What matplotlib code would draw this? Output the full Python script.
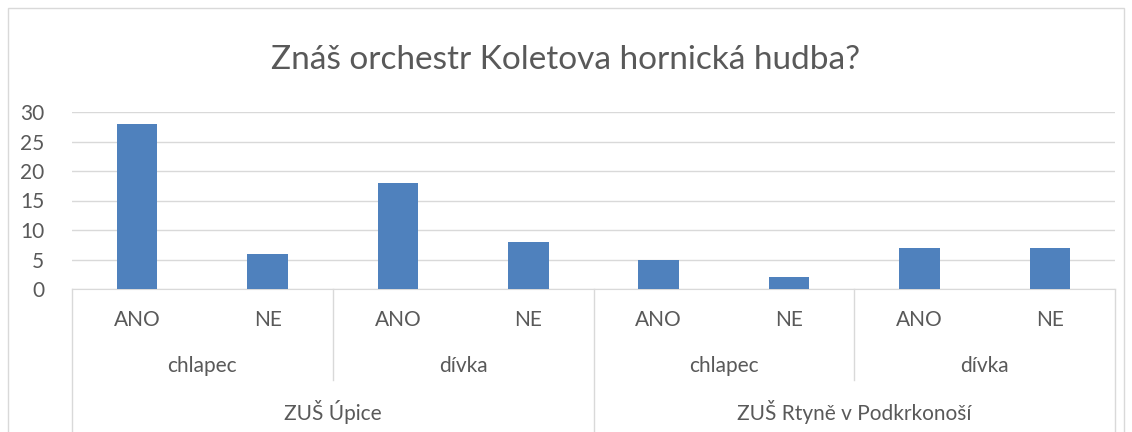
import matplotlib.pyplot as plt
from matplotlib.patches import Rectangle

answers = ["ANO", "NE", "ANO", "NE", "ANO", "NE", "ANO", "NE"]
genders = ["chlapec", "dívka", "chlapec", "dívka"]
schools = ["ZUŠ Úpice", "ZUŠ Rtyně v Podkrkonoší"]
values = [28, 6, 18, 8, 5, 2, 7, 7]

plt.rcParams['font.family'] = ['Lato', 'DejaVu Sans']
grey = '#d9d9d9'
txt = '#595959'

fig = plt.figure(figsize=(11.32, 4.32), dpi=100)
fig.patches.append(Rectangle((8 / 1132, -0.1), 1116 / 1132, 1.0815, transform=fig.transFigure,
                             fill=False, edgecolor=grey, lw=1))
ax = fig.add_axes([72 / 1132, 143 / 432, 1043 / 1132, 177 / 432])

x = list(range(len(values)))
ax.bar(x, values, width=0.31, color='#4f81bd', zorder=3)
ax.set_xlim(-0.5, len(values) - 0.5)
ax.set_ylim(0, 30)
ax.set_yticks(range(0, 31, 5))
ax.yaxis.grid(True, color=grey, lw=1)
ax.set_axisbelow(True)
for s in ['top', 'right', 'left']:
    ax.spines[s].set_visible(False)
ax.spines['bottom'].set_color(grey)
ax.tick_params(axis='y', length=0, labelsize=15, labelcolor=txt, pad=20)
ax.set_xticks([])

tr = ax.get_xaxis_transform()
# separators below the axis
for xs in [-0.5, 3.5, 7.5]:
    ax.plot([xs, xs], [0, -0.81], transform=tr, color=grey, lw=1, clip_on=False)
for xs in [1.5, 5.5]:
    ax.plot([xs, xs], [0, -0.514], transform=tr, color=grey, lw=1, clip_on=False)

for i, a in enumerate(answers):
    ax.text(i, -0.175, a, transform=tr, ha='center', va='center', fontsize=15, color=txt)
for j, g in enumerate(genders):
    ax.text(2 * j + 0.5, -0.435, g, transform=tr, ha='center', va='center', fontsize=15, color=txt)
for k, s in enumerate(schools):
    ax.text(4 * k + 1.5, -0.695, s, transform=tr, ha='center', va='center', fontsize=15, color=txt)

fig.text(0.5, 1 - 60 / 432, "Znáš orchestr Koletova hornická hudba?", ha='center', va='center',
         fontsize=24, color=txt)

fig.savefig('out.png', dpi=100)
